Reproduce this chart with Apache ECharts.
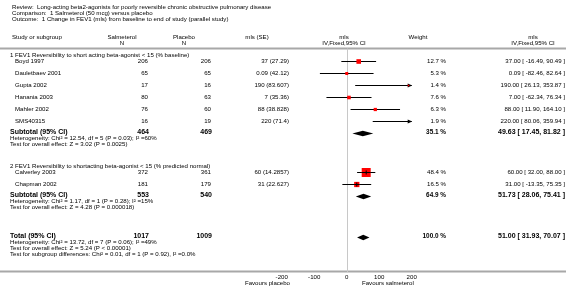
<!DOCTYPE html>
<html>
<head>
<meta charset="utf-8">
<script src="https://cdn.jsdelivr.net/npm/echarts@6/dist/echarts.min.js"></script>
<style>
  html, body { margin: 0; padding: 0; background: #fff; }
  #chart { width: 566px; height: 296px; }
</style>
</head>
<body>
<div id="chart"></div>
<script>
// ---- data ----
const titleLines = [
  'Review:  Long-acting beta2-agonists for poorly reversible chronic obstructive pulmonary disease',
  'Comparison:  1 Salmeterol (50 mcg) versus placebo',
  'Outcome:  1 Change in FEV1 (mls) from baseline to end of study (parallel study)'
]
const groupLabels = [
  '1 FEV1 Reversibility to short acting beta-agonist < 15 (% baseline)',
  '2 FEV1 Reversibility to shortacting beta-agonist < 15 (% predicted normal)'
]
const studyNames = ['Boyd 1997', 'Dauletbaev 2001', 'Gupta 2002', 'Hanania 2003', 'Mahler 2002', 'SMS40315', 'Calverley 2003', 'Chapman 2002']
const studyGroup = [0, 0, 0, 0, 0, 0, 1, 1]
const salmN = [206, 65, 17, 80, 76, 16, 372, 181]
const placN = [206, 65, 16, 63, 60, 19, 361, 179]
const studySE = ['27.29', '42.12', '83.607', '35.36', '38.828', '71.4', '14.2857', '22.627']
const studyEst = [37, 0.09, 190, 7, 88, 220, 60, 31]
const studyLow = [-16.49, -82.46, 26.13, -62.34, 11.90, 80.06, 32.00, -13.35]
const studyHigh = [90.49, 82.64, 353.87, 76.34, 164.10, 359.94, 88.00, 75.35]
const studyWeight = [12.7, 5.3, 1.4, 7.6, 6.3, 1.9, 48.4, 16.5]

const subSalmN = [464, 553]
const subPlacN = [469, 540]
const subEst = [49.63, 51.73]
const subLow = [17.45, 28.06]
const subHigh = [81.82, 75.41]
const subWeight = [35.1, 64.9]
const subNotes = [
  ['Heterogeneity: Chi\u00b2 = 12.54, df = 5 (P = 0.03); I\u00b2 =60%', 'Test for overall effect: Z = 3.02 (P = 0.0025)'],
  ['Heterogeneity: Chi\u00b2 = 1.17, df = 1 (P = 0.28); I\u00b2 =15%', 'Test for overall effect: Z = 4.28 (P = 0.000018)']
]

const totalN = [1017, 1009]
const totalEst = 51.00, totalLow = 31.93, totalHigh = 70.07, totalWeight = 100.0
const totalNotes = [
  'Heterogeneity: Chi\u00b2 = 13.72, df = 7 (P = 0.06); I\u00b2 =49%',
  'Test for overall effect: Z = 5.24 (P < 0.00001)',
  'Test for subgroup differences: Chi\u00b2 = 0.01, df = 1 (P = 0.92), I\u00b2 =0.0%'
]

const xTicks = [-200, -100, 0, 100, 200]
const favours = ['Favours placebo', 'Favours salmeterol']

// ---- layout ----
const FONT = '"Liberation Sans", Arial, sans-serif'
const SMALL = 6.1
const BIG = 7
const XMIN = xTicks[0], XMAX = xTicks[xTicks.length - 1]
const AXIS_Y = 272

// row slots (pixel rows on the y value axis)
const groupTop = [55, 166]
const studyRow = []
const groupRows = [[], []]
studyNames.forEach((n, i) => {
  const g = studyGroup[i]
  const y = groupTop[g] + 6 + 12 * groupRows[g].length
  groupRows[g].push(y)
  studyRow.push(y)
})
const subRow = groupRows.map(r => r[r.length - 1] + 11.5)
const totalRow = 236.5

const fmt2 = v => v.toFixed(2)
const ciText = (e, l, h) => fmt2(e) + ' [ ' + fmt2(l) + ', ' + fmt2(h) + ' ]'

const chart = echarts.init(document.getElementById('chart'))

function renderStudy(params, api) {
  const e = api.value(0), lo = api.value(1), hi = api.value(2), w = api.value(3), row = api.value(4)
  const l = api.coord([Math.max(lo, XMIN), row])
  const r = api.coord([Math.min(hi, XMAX), row])
  const y = Math.round(l[1]) + 0.5
  const kids = [{
    type: 'line', shape: { x1: l[0], y1: y, x2: r[0], y2: y },
    style: { stroke: '#000', lineWidth: 1 }
  }]
  if (hi > XMAX) {
    kids.push({ type: 'polygon', shape: { points: [[r[0] - 4, y - 2], [r[0] + 0.5, y], [r[0] - 4, y + 2]] }, style: { fill: '#000' } })
  }
  if (lo < XMIN) {
    kids.push({ type: 'polygon', shape: { points: [[l[0] + 4, y - 2], [l[0] - 0.5, y], [l[0] + 4, y + 2]] }, style: { fill: '#000' } })
  }
  if (e >= XMIN && e <= XMAX) {
    const c = api.coord([e, row])
    const s = Math.max(1.5, 9 * Math.sqrt(w / 48.4))
    kids.push({ type: 'rect', shape: { x: c[0] - s / 2, y: y - s / 2, width: s, height: s }, style: { fill: '#ff0000' } })
    if (s > 5) {
      kids.push({ type: 'line', shape: { x1: c[0], y1: y - 2, x2: c[0], y2: y + 2 }, style: { stroke: '#000', lineWidth: 1 } })
      kids.push({ type: 'line', shape: { x1: c[0] - s / 2, y1: y, x2: c[0] + s / 2, y2: y }, style: { stroke: '#000', lineWidth: 1 } })
    }
  }
  return { type: 'group', children: kids }
}

function renderDiamond(params, api) {
  const e = api.coord([api.value(0), api.value(3)])
  const l = api.coord([api.value(1), api.value(3)])
  const r = api.coord([api.value(2), api.value(3)])
  const y = Math.round(e[1]) + 0.5
  return {
    type: 'polygon',
    shape: { points: [[l[0], y], [e[0], y - 2.7], [r[0], y], [e[0], y + 2.7]] },
    style: { fill: '#000' }
  }
}

function renderZero(params, api) {
  const a = api.coord([api.value(0), api.value(1)])
  const b = api.coord([api.value(0), api.value(2)])
  const x = Math.round(a[0]) + 0.5
  return { type: 'line', shape: { x1: x, y1: a[1], x2: x, y2: b[1] }, style: { stroke: '#c8c8c8', lineWidth: 1 } }
}

chart.setOption({
  animation: false,
  grid: { left: 281.7, width: 130, top: 0, height: AXIS_Y },
  xAxis: {
    type: 'value', min: XMIN, max: XMAX, interval: 100,
    axisLine: { show: false },
    axisTick: { show: true, inside: true, length: 3, lineStyle: { color: '#444', width: 1 } },
    axisLabel: { fontSize: SMALL, fontFamily: FONT, color: '#000', margin: 2 },
    splitLine: { show: false }
  },
  yAxis: { type: 'value', min: 0, max: AXIS_Y, inverse: true, show: false },
  series: [
    {
      type: 'custom', renderItem: renderZero, clip: false,
      data: [[0, 48.5, AXIS_Y]]
    },
    {
      type: 'custom', renderItem: renderStudy, clip: false,
      data: studyNames.map((n, i) => [studyEst[i], studyLow[i], studyHigh[i], studyWeight[i], studyRow[i]])
    },
    {
      type: 'custom', renderItem: renderDiamond, clip: false,
      data: subEst.map((e, g) => [e, subLow[g], subHigh[g], subRow[g]])
        .concat([[totalEst, totalLow, totalHigh, totalRow]])
    }
  ]
})

// ---- text columns ----
const rowPx = r => chart.convertToPixel({ gridIndex: 0 }, [0, r])[1]
const items = []
function txt(x, row, text, align, size, bold) {
  items.push({
    type: 'text', x: x, y: row > AXIS_Y ? row : rowPx(row),
    style: {
      text: String(text), align: align || 'left', verticalAlign: 'middle',
      fontSize: size || SMALL, fontWeight: bold ? 'bold' : 'normal', fontFamily: FONT, fill: '#000'
    }
  })
}

const COL = { study: 15, group: 10, title: 12, salm: 148, salmHead: 122, plac: 211, placHead: 184, se: 289, seHead: 257, plot: 344, weight: 446, weightHead: 418, ci: 565, ciHead: 533 }

titleLines.forEach((t, i) => txt(COL.title, 7 + 6 * i, t))
txt(COL.title, 37, 'Study or subgroup')
txt(COL.salmHead, 37, 'Salmeterol', 'center'); txt(COL.salmHead, 43, 'N', 'center')
txt(COL.placHead, 37, 'Placebo', 'center'); txt(COL.placHead, 43, 'N', 'center')
txt(COL.seHead, 37, 'mls (SE)', 'center')
txt(COL.plot, 37, 'mls', 'center'); txt(COL.plot, 43, 'IV,Fixed,95% CI', 'center')
txt(COL.weightHead, 37, 'Weight', 'center')
txt(COL.ciHead, 37, 'mls', 'center'); txt(COL.ciHead, 43, 'IV,Fixed,95% CI', 'center')

groupLabels.forEach((g, gi) => {
  txt(COL.group, groupTop[gi], g)
  const s = subRow[gi]
  txt(COL.group, s, 'Subtotal (95% CI)', 'left', BIG, true)
  txt(COL.salm + 1, s, subSalmN[gi], 'right', BIG, true)
  txt(COL.plac + 1, s, subPlacN[gi], 'right', BIG, true)
  txt(COL.weight, s, subWeight[gi].toFixed(1) + ' %', 'right', 6.4, true)
  txt(COL.ci, s, ciText(subEst[gi], subLow[gi], subHigh[gi]), 'right', BIG, true)
  subNotes[gi].forEach((n, k) => txt(COL.group, s + 6.3 + 6 * k, n))
})

studyNames.forEach((n, i) => {
  const r = studyRow[i]
  txt(COL.study, r, n)
  txt(COL.salm, r, salmN[i], 'right')
  txt(COL.plac, r, placN[i], 'right')
  txt(COL.se, r, studyEst[i] + ' (' + studySE[i] + ')', 'right')
  txt(COL.weight, r, studyWeight[i].toFixed(1) + ' %', 'right')
  txt(COL.ci, r, ciText(studyEst[i], studyLow[i], studyHigh[i]), 'right')
})

txt(COL.group, totalRow, 'Total (95% CI)', 'left', BIG, true)
txt(COL.salm + 1, totalRow, totalN[0], 'right', BIG, true)
txt(COL.plac + 1, totalRow, totalN[1], 'right', BIG, true)
txt(COL.weight, totalRow, totalWeight.toFixed(1) + ' %', 'right', 6.4, true)
txt(COL.ci, totalRow, ciText(totalEst, totalLow, totalHigh), 'right', BIG, true)
totalNotes.forEach((n, k) => txt(COL.group, totalRow + 6 + 5.8 * k, n))

txt(290, 283.5, favours[0], 'right')
txt(362, 283.5, favours[1], 'left')

// full-width grey rules under the header and along the axis
items.push({ type: 'rect', shape: { x: 0, y: 47.5, width: 566, height: 2 }, style: { fill: '#a8a8a8' } })
items.push({ type: 'rect', shape: { x: 0, y: AXIS_Y - 1.5, width: 566, height: 2 }, style: { fill: '#a8a8a8' } })

chart.setOption({ graphic: { elements: items } })
</script>
</body>
</html>
